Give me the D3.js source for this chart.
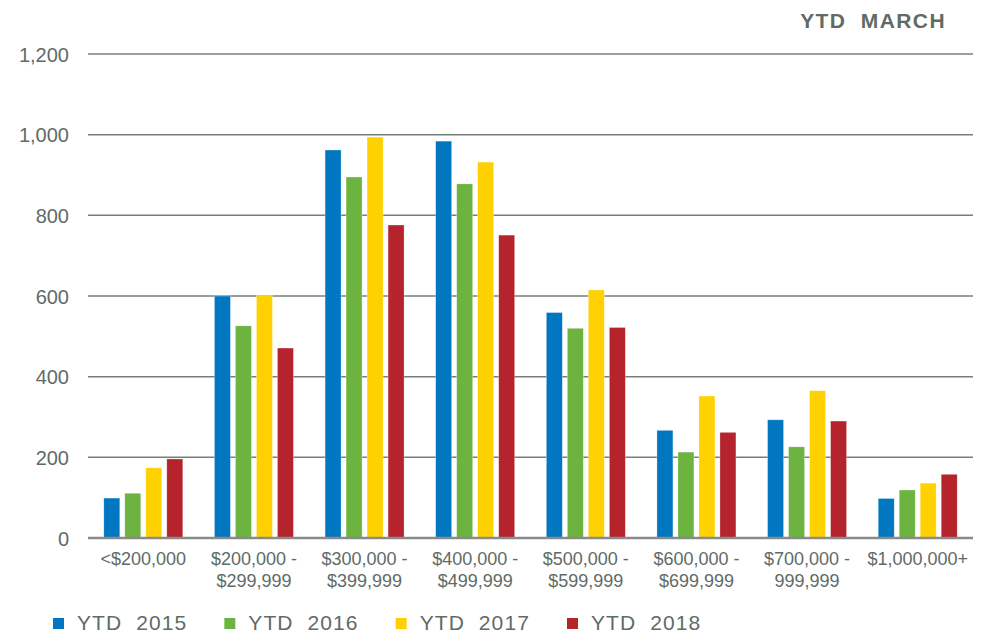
<!DOCTYPE html>
<html>
<head>
<meta charset="utf-8">
<script src="https://cdn.jsdelivr.net/npm/d3@7"></script>
<style>
  body { margin: 0; background: #fff; }
  text { font-family: "Liberation Sans", Arial, sans-serif; fill: #5f6b66; white-space: pre; }
</style>
</head>
<body>
<svg id="chart" width="985" height="636"></svg>
<script>
// price ranges (two-line labels)
const categories = ["<$200,000", "$200,000 -|$299,999", "$300,000 -|$399,999", "$400,000 -|$499,999",
    "$500,000 -|$599,999", "$600,000 -|$699,999", "$700,000 -|999,999", "$1,000,000+"];
const seriesNames = ["YTD  2015", "YTD  2016", "YTD  2017", "YTD  2018"];
const seriesColors = ["#0077c0", "#6db33f", "#ffd100", "#b5232c"];
const ytd2015 = [99, 600, 962, 984, 559, 267, 293, 98];
const ytd2016 = [111, 526, 895, 878, 520, 213, 226, 119];
const ytd2017 = [174, 601, 994, 932, 615, 352, 365, 136];
const ytd2018 = [196, 471, 776, 751, 522, 262, 290, 158];
const yTicks = [0, 200, 400, 600, 800, 1000, 1200];

const values = [ytd2015, ytd2016, ytd2017, ytd2018];
const svg = d3.select("#chart");
const margin = { top: 54, right: 12, bottom: 98, left: 88 };
const width = 985, height = 636;

const xScale = d3.scaleBand()
    .domain(categories)
    .range([margin.left, width - margin.right]);
const xSub = d3.scaleBand()
    .domain(seriesNames)
    .range([-39.5, 39.5])
    .paddingInner(5 / 21);
const yScale = d3.scaleLinear()
    .domain([0, 1200])
    .range([height - margin.bottom, margin.top]);

// gridlines
svg.append("g")
    .selectAll("line")
    .data(yTicks.filter(d => d > 0))
    .join("line")
    .attr("x1", margin.left)
    .attr("x2", width - margin.right)
    .attr("y1", d => yScale(d))
    .attr("y2", d => yScale(d))
    .attr("stroke", "#76807b")
    .attr("stroke-width", 1.5);

// y axis labels
const yAxis = d3.axisLeft(yScale)
    .tickValues(yTicks)
    .tickSize(0)
    .tickPadding(19)
    .tickFormat(d3.format(","));
const yG = svg.append("g")
    .attr("transform", "translate(" + margin.left + ",0)")
    .call(yAxis);
yG.select(".domain").remove();
yG.selectAll("text")
    .attr("dy", "0.35em")
    .style("font-size", "20px")
    .style("font-family", "Liberation Sans, Arial, sans-serif")
    .attr("fill", "#5f6b66");

// bars
const rows = [];
categories.forEach((c, i) => {
    seriesNames.forEach((s, j) => {
        rows.push({ cat: c, series: s, value: values[j][i], color: seriesColors[j] });
    });
});
svg.append("g")
    .selectAll("rect")
    .data(rows)
    .join("rect")
    .attr("x", d => xScale(d.cat) + xScale.bandwidth() / 2 + xSub(d.series))
    .attr("y", d => yScale(d.value))
    .attr("width", xSub.bandwidth())
    .attr("height", d => yScale(0) - yScale(d.value))
    .attr("fill", d => d.color)
    .attr("stroke", "#ffffff")
    .attr("stroke-opacity", 0.5)
    .attr("stroke-width", 0.6);

// baseline
svg.append("line")
    .attr("x1", margin.left)
    .attr("x2", width - margin.right)
    .attr("y1", yScale(0))
    .attr("y2", yScale(0))
    .attr("stroke", "#8a8a8a")
    .attr("stroke-width", 2.5);

// x labels
const xLab = svg.append("g")
    .selectAll("text")
    .data(categories)
    .join("text")
    .attr("x", d => xScale(d) + xScale.bandwidth() / 2)
    .attr("y", 565)
    .attr("text-anchor", "middle")
    .style("font-size", "18px");
xLab.selectAll("tspan")
    .data(d => d.split("|"))
    .join("tspan")
    .attr("x", function() { return d3.select(this.parentNode).attr("x"); })
    .attr("dy", (d, i) => i === 0 ? 0 : 22)
    .text(d => d);

// title
svg.append("text")
    .attr("x", 946)
    .attr("y", 28)
    .attr("text-anchor", "end")
    .style("font-size", "21px")
    .style("font-weight", "bold")
    .style("letter-spacing", "1.4px")
    .text("YTD  MARCH");

// legend
const legendX = d3.scalePoint()
    .domain(seriesNames)
    .range([53, 567]);
const leg = svg.append("g")
    .selectAll("g")
    .data(seriesNames)
    .join("g")
    .attr("transform", d => "translate(" + legendX(d) + ",618)");
leg.append("rect")
    .attr("width", 11)
    .attr("height", 11)
    .attr("fill", (d, i) => seriesColors[i]);
leg.append("text")
    .attr("x", 24)
    .attr("y", 12)
    .style("font-size", "21px")
    .style("letter-spacing", "1.1px")
    .text(d => d);
</script>
</body>
</html>
